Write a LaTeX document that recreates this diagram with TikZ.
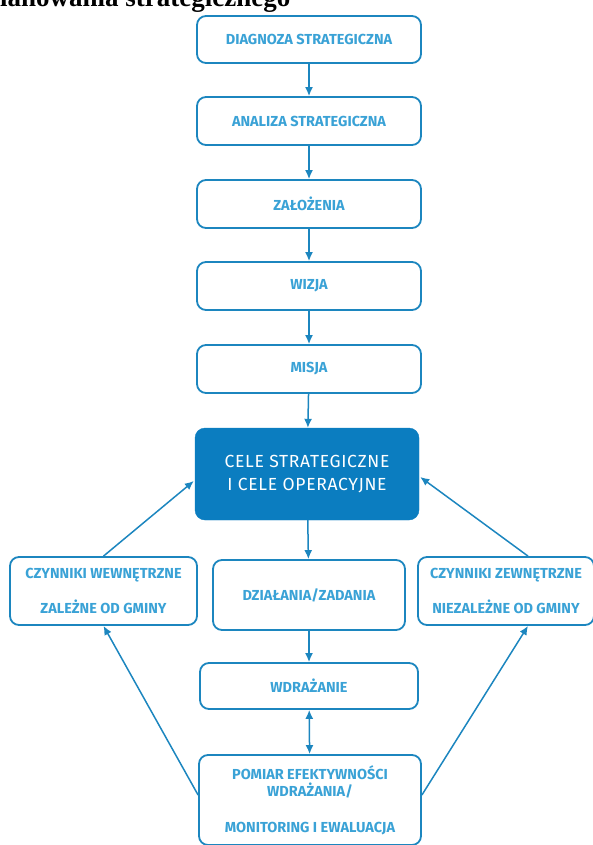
\documentclass[tikz,border=0pt]{standalone}
\usepackage{fontspec}
\setmainfont{Liberation Serif}
\newfontfamily\boxfont{Fira Sans}
\newfontfamily\celefont[LetterSpace=4]{Fira Sans}
\usetikzlibrary{arrows.meta,calc}
\definecolor{lineblue}{HTML}{1C86BF}
\definecolor{textblue}{HTML}{3AA2D6}
\definecolor{fillblue}{HTML}{0B7DC0}
\tikzset{
  box/.style={draw=lineblue, line width=1.8pt, rounded corners=9pt, fill=white,
    text=textblue, font=\boxfont\bfseries\fontsize{14.5}{17}\selectfont, align=center, inner sep=1pt},
  mainbox/.style={draw=fillblue, fill=fillblue, rounded corners=10pt, text=white,
    font=\celefont\fontsize{17.5}{23}\selectfont, align=center},
  arr/.style={draw=lineblue, line width=1.5pt, -{Latex[length=9pt,width=8pt]}},
  darr/.style={draw=lineblue, line width=1.5pt, {Latex[length=9pt,width=8pt]}-{Latex[length=9pt,width=8pt]}}
}
\begin{document}
\begin{tikzpicture}[x=1pt,y=-1pt]
\useasboundingbox (0,0) rectangle (593,845);
\clip (0,0) rectangle (593,845);
\node[anchor=base west, font=\bfseries\fontsize{27}{29}\selectfont, inner sep=0pt] (title) at (0,7) {lanowania strategicznego};
\node[box, minimum width=224pt, minimum height=47pt] (diag) at (309,39.5) {DIAGNOZA STRATEGICZNA};
\node[box, minimum width=224pt, minimum height=48pt] (anal) at (309,121) {ANALIZA STRATEGICZNA};
\node[box, minimum width=224pt, minimum height=48pt] (zal) at (309,204) {ZAŁOŻENIA};
\node[box, minimum width=224pt, minimum height=48pt] (wiz) at (309,286) {WIZJA};
\node[box, minimum width=224pt, minimum height=48pt] (mis) at (309,369) {MISJA};
\node[mainbox, minimum width=224pt, minimum height=92pt] (cele) at (307,474) {CELE STRATEGICZNE\\I CELE OPERACYJNE};
\node[box, minimum width=187pt, minimum height=68pt] (left) at (103.5,591) {CZYNNIKI WEWNĘTRZNE\\[16pt]ZALEŻNE OD GMINY};
\node[box, minimum width=192pt, minimum height=70pt] (dzial) at (309,595) {DZIAŁANIA/ZADANIA};
\node[box, minimum width=176pt, minimum height=68pt] (right) at (506,591) {CZYNNIKI ZEWNĘTRZNE\\[16pt]NIEZALEŻNE OD GMINY};
\node[box, minimum width=218pt, minimum height=46pt] (wdr) at (309,686) {WDRAŻANIE};
\node[box, minimum width=222pt, minimum height=90pt] (pom) at (310,800) {POMIAR EFEKTYWNOŚCI\\WDRAŻANIA/\\[19pt]MONITORING I EWALUACJA};
\draw[arr] (diag) -- (anal);
\draw[arr] (anal) -- (zal);
\draw[arr] (zal) -- (wiz);
\draw[arr] (wiz) -- (mis);
\draw[arr] (mis) -- (cele);
\draw[arr] (cele) -- (dzial);
\draw[arr] (dzial) -- (wdr);
\draw[darr] (wdr) -- (pom);
\draw[arr] (left.north) -- ($(cele.west)+(-1,7)$);
\draw[arr] ($(right.north)+(22,0)$) -- ($(cele.east)+(1,3)$);
\draw[arr] ($(pom.west)+(0,-5)$) -- (left.south);
\draw[arr] ($(pom.east)+(0,-5)$) -- ($(right.south)+(22,0)$);
\end{tikzpicture}
\end{document}
